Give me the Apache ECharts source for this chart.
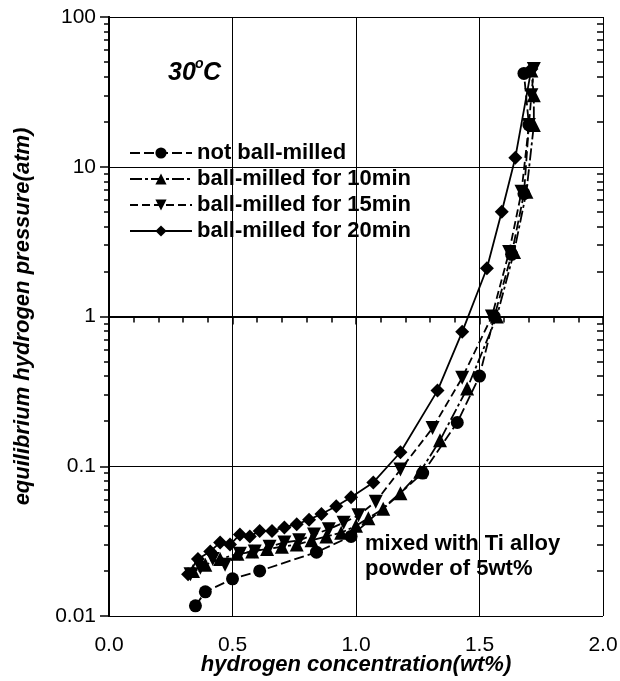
<!DOCTYPE html>
<html>
<head>
<meta charset="utf-8">
<script src="https://cdn.jsdelivr.net/npm/echarts@6/dist/echarts.min.js"></script>
<style>
  html, body { margin: 0; padding: 0; background: #fff; }
  #chart { width: 620px; height: 681px; }
</style>
</head>
<body>
<div id="chart"></div>
<script>
// 图例名称
const seriesNames = ['not ball-milled', 'ball-milled for 10min', 'ball-milled for 15min', 'ball-milled for 20min'];

// not ball-milled
const notMilledX = [0.35, 0.39, 0.50, 0.61, 0.84, 0.98, 1.27, 1.41, 1.50, 1.56, 1.63, 1.68, 1.70, 1.68];
const notMilledP = [0.0117, 0.0145, 0.0177, 0.020, 0.0267, 0.034, 0.090, 0.196, 0.40, 1.0, 2.6, 6.6, 19, 42];

// ball-milled for 10min
const milled10X = [0.34, 0.39, 0.45, 0.52, 0.58, 0.64, 0.70, 0.76, 0.82, 0.88, 0.94, 1.00, 1.05, 1.11, 1.18, 1.26, 1.34, 1.45, 1.57, 1.64, 1.69, 1.72, 1.72, 1.71];
const milled10P = [0.020, 0.022, 0.024, 0.026, 0.027, 0.028, 0.029, 0.030, 0.032, 0.034, 0.036, 0.040, 0.045, 0.052, 0.066, 0.092, 0.149, 0.33, 1.0, 2.7, 6.8, 19, 30, 44];

// ball-milled for 15min
const milled15X = [0.33, 0.37, 0.42, 0.47, 0.53, 0.59, 0.65, 0.71, 0.77, 0.83, 0.89, 0.95, 1.01, 1.08, 1.18, 1.31, 1.43, 1.55, 1.62, 1.67, 1.70, 1.71, 1.72];
const milled15P = [0.019, 0.021, 0.024, 0.022, 0.026, 0.027, 0.029, 0.031, 0.032, 0.035, 0.038, 0.042, 0.047, 0.058, 0.095, 0.18, 0.39, 1.0, 2.7, 6.8, 19, 30, 45];

// ball-milled for 20min
const milled20X = [0.32, 0.36, 0.41, 0.45, 0.49, 0.53, 0.57, 0.61, 0.66, 0.71, 0.76, 0.81, 0.86, 0.92, 0.98, 1.07, 1.18, 1.33, 1.43, 1.53, 1.59, 1.645, 1.71];
const milled20P = [0.019, 0.024, 0.027, 0.031, 0.030, 0.035, 0.034, 0.037, 0.037, 0.039, 0.041, 0.044, 0.048, 0.054, 0.062, 0.078, 0.124, 0.32, 0.79, 2.1, 5.0, 11.5, 45];

// 刻度
const xTicks = [0.0, 0.5, 1.0, 1.5, 2.0];
const yTicks = [0.01, 0.1, 1, 10, 100];

const FONT = '"Liberation Sans", Arial, sans-serif';

const pairs = (xs, ys) => xs.map((x, i) => [x, ys[i]]);

// log 轴的次刻度位置 (2..9 每个十倍程), 放在一个线性的 log10 轴上
const minorLogTicks = [];
for (let d = -2; d < 2; d++) {
  for (let k = 2; k <= 9; k++) minorLogTicks.push(Math.log10(k) + d);
}

const chart = echarts.init(document.getElementById('chart'));

const baseLine = { lineStyle: { color: '#000', width: 2 } };

const makeSeries = (name, data, symbol, dash, rotate) => ({
  name,
  type: 'line',
  data,
  xAxisIndex: 0,
  yAxisIndex: 0,
  symbol,
  symbolSize: symbol === 'circle' ? 13 : 14,
  symbolRotate: rotate || 0,
  showAllSymbol: true,
  lineStyle: { color: '#000', width: 1.8, type: dash },
  itemStyle: { color: '#000' },
  z: 5
});

const option = {
  backgroundColor: '#fff',
  animation: false,
  grid: { left: 109, right: 17, top: 17, bottom: 65, outerBoundsMode: 'none' },
  legend: {
    orient: 'vertical',
    left: 124,
    top: 137,
    itemWidth: 62,
    itemHeight: 14,
    itemGap: 4,
    data: seriesNames,
    textStyle: { fontFamily: FONT, fontWeight: 'bold', fontSize: 22, color: '#000' }
  },
  xAxis: [
    {
      type: 'value',
      min: 0,
      max: 2,
      interval: 0.5,
      position: 'bottom',
      name: 'hydrogen concentration(wt%)',
      nameLocation: 'middle',
      nameGap: 38,
      nameMoveOverlap: false,
      nameTextStyle: { fontFamily: FONT, fontWeight: 'bold', fontStyle: 'italic', fontSize: 22, color: '#000' },
      axisLine: baseLine,
      axisTick: { inside: false, length: 8, lineStyle: { color: '#000', width: 1.5 } },
      minorTick: { show: true, splitNumber: 5, length: 5, lineStyle: { color: '#000', width: 1.5 } },
      axisLabel: {
        fontFamily: FONT, fontSize: 21, color: '#000', margin: 19,
        formatter: v => xTicks.includes(v) ? v.toFixed(1) : ''
      },
      splitLine: { show: true, lineStyle: { color: '#000', width: 1 } }
    },
    {
      type: 'value',
      min: 0,
      max: 2,
      interval: 0.5,
      position: 'top',
      axisLine: baseLine,
      axisTick: { inside: true, length: 6, lineStyle: { color: '#000', width: 1.5 } },
      minorTick: { show: true, splitNumber: 5, length: 6, lineStyle: { color: '#000', width: 1.5 } },
      axisLabel: { show: false },
      splitLine: { show: false }
    }
  ],
  yAxis: [
    {
      type: 'log',
      logBase: 10,
      min: yTicks[0],
      max: yTicks[yTicks.length - 1],
      position: 'left',
      name: 'equilibrium hydrogen pressure(atm)',
      nameLocation: 'middle',
      nameGap: 75,
      nameRotate: 90,
      nameTextStyle: { fontFamily: FONT, fontWeight: 'bold', fontStyle: 'italic', fontSize: 22, color: '#000' },
      axisLine: baseLine,
      axisTick: { inside: false, length: 9, lineStyle: { color: '#000', width: 1.5 } },
      axisLabel: {
        fontFamily: FONT, fontSize: 21, color: '#000', margin: 13,
        formatter: v => String(+v.toPrecision(3))
      },
      splitLine: { show: true, lineStyle: { color: '#000', width: 1 } }
    },
    {
      type: 'log',
      logBase: 10,
      min: yTicks[0],
      max: yTicks[yTicks.length - 1],
      position: 'right',
      axisLine: baseLine,
      axisTick: { inside: true, length: 9, lineStyle: { color: '#000', width: 1.5 } },
      axisLabel: { show: false },
      splitLine: { show: false }
    },
    {
      // 左侧次刻度
      type: 'value',
      min: -2,
      max: 2,
      position: 'left',
      axisLine: { show: false },
      axisTick: { show: true, inside: false, length: 5, customValues: minorLogTicks, lineStyle: { color: '#000', width: 1.5 } },
      axisLabel: { show: false },
      splitLine: { show: false }
    },
    {
      // 右侧次刻度
      type: 'value',
      min: -2,
      max: 2,
      position: 'right',
      axisLine: { show: false },
      axisTick: { show: true, inside: true, length: 6, customValues: minorLogTicks, lineStyle: { color: '#000', width: 1.5 } },
      axisLabel: { show: false },
      splitLine: { show: false }
    }
  ],
  graphic: [
    { type: 'text', left: 168, top: 61, style: { text: '30', font: 'italic bold 25px ' + FONT, fill: '#000' } },
    { type: 'text', left: 195, top: 57, style: { text: 'o', font: 'italic bold 14px ' + FONT, fill: '#000' } },
    { type: 'text', left: 203, top: 61, style: { text: 'C', font: 'italic bold 25px ' + FONT, fill: '#000' } },
    {
      type: 'text', left: 365, top: 531,
      style: { text: 'mixed with Ti alloy\npowder of 5wt%', font: 'bold 22px ' + FONT, lineHeight: 25, fill: '#000' }
    }
  ],
  series: [
    makeSeries(seriesNames[0], pairs(notMilledX, notMilledP), 'circle', [10, 4]),
    makeSeries(seriesNames[1], pairs(milled10X, milled10P), 'triangle', [12, 3, 3, 3]),
    makeSeries(seriesNames[2], pairs(milled15X, milled15P), 'triangle', [8, 4], 180),
    makeSeries(seriesNames[3], pairs(milled20X, milled20P), 'diamond', 'solid')
  ]
};

chart.setOption(option);
</script>
</body>
</html>
